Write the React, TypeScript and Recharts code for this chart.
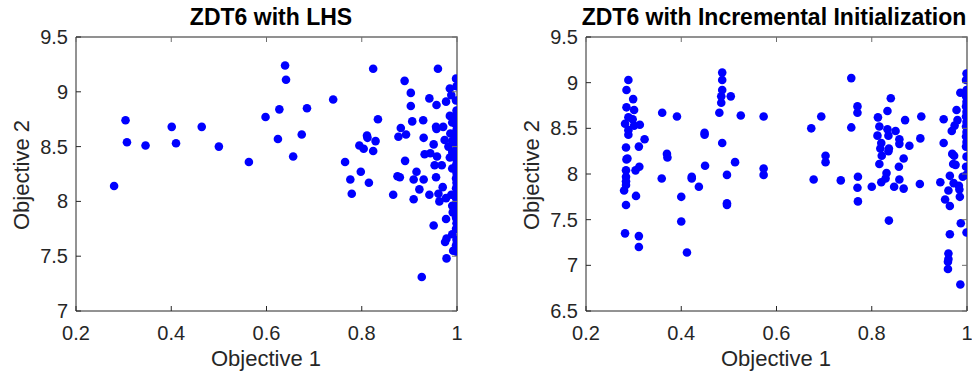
import React from 'react';
import * as R from 'recharts';
import { ScatterChart, Scatter, XAxis, YAxis } from 'recharts';

// ZDT6 with LHS
const lhsObj1 = [
  0.304, 0.307, 0.346, 0.28, 0.401, 0.41, 0.464, 0.5, 0.563, 0.598, 0.627, 0.624,
  0.639, 0.641, 0.685, 0.674, 0.656, 0.74, 0.824, 0.89, 0.96, 0.834, 0.903, 0.903,
  0.942, 0.957, 0.977, 0.988, 0.985, 0.811, 0.812, 0.829, 0.795, 0.804, 0.824, 0.765,
  0.776, 0.798, 0.815, 0.779, 0.882, 0.877, 0.893, 0.906, 0.929, 0.93, 0.956, 0.957,
  0.971, 0.974, 0.951, 0.932, 0.944, 0.958, 0.891, 0.953, 0.968, 0.875, 0.88, 0.915,
  0.909, 0.93, 0.956, 0.921, 0.866, 0.909, 0.942, 0.963, 0.961, 0.97, 0.977, 0.988,
  0.991, 0.977, 0.951, 0.975, 0.978, 0.992, 0.978, 0.926,
  0.998, 0.999, 0.998, 0.999, 0.998, 0.999, 0.998, 0.999, 0.998, 0.999, 0.998, 0.999,
  0.998, 0.999, 0.998, 0.999, 0.998, 0.999, 0.998, 0.999, 0.998, 0.999, 0.998, 0.999,
  0.998, 0.999, 0.998, 0.999, 0.998, 0.999,
  0.985, 0.99, 0.986, 0.99, 0.982, 0.99, 0.985, 0.99, 0.99, 0.99,
];
const lhsObj2 = [
  8.74, 8.54, 8.51, 8.14, 8.68, 8.53, 8.68, 8.5, 8.36, 8.77, 8.84, 8.57,
  9.24, 9.11, 8.85, 8.61, 8.41, 8.93, 9.21, 9.1, 9.21, 8.75, 8.99, 8.87,
  8.94, 8.88, 8.91, 8.97, 9.03, 8.6, 8.58, 8.55, 8.51, 8.48, 8.46, 8.36,
  8.2, 8.27, 8.17, 8.07, 8.67, 8.59, 8.61, 8.73, 8.74, 8.58, 8.68, 8.66,
  8.68, 8.56, 8.52, 8.43, 8.44, 8.41, 8.37, 8.33, 8.33, 8.23, 8.22, 8.27,
  8.2, 8.2, 8.22, 8.11, 8.06, 8.02, 8.06, 8.0, 8.07, 8.13, 8.03, 8.06,
  7.9, 7.84, 7.78, 7.63, 7.66, 7.55, 7.48, 7.31,
  9.12, 9.05, 8.92, 8.83, 8.79, 8.74, 8.7, 8.65, 8.61, 8.56, 8.51, 8.47,
  8.42, 8.38, 8.33, 8.26, 8.21, 8.17, 8.12, 8.07, 8.03, 7.98, 7.94, 7.89,
  7.85, 7.8, 7.75, 7.65, 7.6, 7.54,
  8.78, 8.72, 8.62, 8.55, 8.5, 8.45, 8.4, 8.3, 7.96, 7.7,
];

// ZDT6 with Incremental Initialization
const incObj1 = [
  0.289, 0.285, 0.299, 0.285, 0.301, 0.289, 0.298, 0.282, 0.301, 0.313, 0.289, 0.289,
  0.323, 0.284, 0.311, 0.285, 0.287, 0.284, 0.304, 0.312, 0.284, 0.284, 0.284, 0.28,
  0.305, 0.284, 0.282, 0.311, 0.311, 0.36, 0.391, 0.37, 0.371, 0.359, 0.422, 0.422,
  0.437, 0.4, 0.4, 0.412, 0.449, 0.449, 0.45, 0.486, 0.486, 0.486, 0.484, 0.484,
  0.504, 0.48, 0.525, 0.486, 0.513, 0.496, 0.496, 0.496, 0.573, 0.573, 0.573,
  0.757, 0.694, 0.673, 0.757, 0.77, 0.77, 0.703, 0.703, 0.678, 0.735, 0.771, 0.77,
  0.771, 0.8, 0.84, 0.833, 0.813, 0.816, 0.833, 0.85, 0.835, 0.812, 0.858, 0.82,
  0.858, 0.818, 0.836, 0.835, 0.821, 0.879, 0.867, 0.87, 0.904, 0.902, 0.816, 0.857,
  0.831, 0.829, 0.82, 0.858, 0.847, 0.867, 0.901, 0.836, 0.944, 0.951, 0.951, 0.961,
  0.954, 0.964, 0.964, 0.972, 0.986, 0.978, 0.98, 0.968, 0.974, 0.969, 0.973, 0.971,
  0.976, 0.991, 0.983, 0.984, 0.985, 0.987, 0.964, 0.961, 0.961, 0.96, 0.96, 0.986,
  0.999,
  0.999, 0.998, 0.999, 0.998, 0.999, 0.998, 0.999, 0.998, 0.999, 0.998, 0.999, 0.998,
  0.999, 0.998, 0.999, 0.998, 0.999,
];
const incObj2 = [
  9.03, 8.92, 8.82, 8.73, 8.7, 8.62, 8.6, 8.55, 8.53, 8.54, 8.48, 8.43,
  8.38, 8.29, 8.3, 8.16, 8.17, 8.04, 8.04, 8.08, 7.97, 7.92, 7.88, 7.82,
  7.76, 7.66, 7.35, 7.32, 7.2, 8.67, 8.63, 8.22, 8.18, 7.95, 7.97, 7.95,
  7.86, 7.75, 7.48, 7.14, 8.45, 8.43, 8.09, 9.11, 9.03, 8.92, 8.85, 8.78,
  8.85, 8.67, 8.64, 8.34, 8.13, 7.99, 7.68, 7.66, 8.63, 8.06, 7.99,
  9.05, 8.63, 8.5, 8.51, 8.74, 8.67, 8.2, 8.13, 7.94, 7.93, 7.97, 7.85,
  7.7, 7.86, 8.83, 8.69, 8.62, 8.52, 8.49, 8.47, 8.42, 8.42, 8.38, 8.34,
  8.33, 8.28, 8.28, 8.25, 8.2, 8.31, 8.17, 8.59, 8.63, 8.39, 8.11, 8.08,
  8.01, 7.95, 7.91, 7.94, 7.86, 7.84, 7.89, 7.49, 7.91, 8.6, 8.34, 7.82,
  7.72, 7.65, 7.98, 7.9, 8.89, 8.7, 8.59, 8.47, 8.53, 8.22, 8.2, 8.11,
  8.1, 7.97, 7.87, 7.83, 7.75, 7.46, 7.34, 7.13, 7.07, 7.04, 6.96, 6.79,
  7.36,
  9.1, 9.03, 8.92, 8.85, 8.79, 8.74, 8.68, 8.63, 8.57, 8.52, 8.46, 8.41,
  8.35, 8.3, 8.19, 8.08, 7.99,
];

const xTicks = [0.2, 0.4, 0.6, 0.8, 1];
const lhsYTicks = [7, 7.5, 8, 8.5, 9, 9.5];
const incYTicks = [6.5, 7, 7.5, 8, 8.5, 9, 9.5];

const FONT = '"Liberation Sans", Arial, Helvetica, sans-serif';
const AXIS = '#262626';
const BOX = '#6e6e6e';

const PANEL_W = 486;
const PANEL_H = 373;
const M_TOP = 37;
const M_BOTTOM = 32;
const X_AXIS_H = 30;
const Y_AXIS_W = 40;
const PLOT_H = PANEL_H - M_TOP - M_BOTTOM - X_AXIS_H;
const X_GAP = 10; // gap between x axis line and tick label anchor
const Y_GAP = 8;
const TICK = 5;

const zip = (xs: number[], ys: number[]) => xs.map((x, i) => ({ x, y: ys[i] }));

const Dot = (props: any) => <circle cx={props.cx} cy={props.cy} r={4.3} fill="#0000ff" />;

// x tick: label plus inward tick marks on the bottom and top edges
const XTick = ({ x, y, payload }: any) => {
  const base = y - X_GAP;
  const top = base - PLOT_H;
  return (
    <g>
      <line x1={x} x2={x} y1={base} y2={base - TICK} stroke={AXIS} />
      <line x1={x} x2={x} y1={top} y2={top + TICK} stroke={BOX} />
      <text x={x} y={y + 19} textAnchor="middle" fontSize={20} fill={AXIS} fontFamily={FONT}>
        {String(payload.value)}
      </text>
    </g>
  );
};

function makeYTick(plotW: number) {
  return ({ x, y, payload }: any) => {
    const base = x + Y_GAP;
    const right = base + plotW;
    return (
      <g>
        <line x1={base} x2={base + TICK} y1={y} y2={y} stroke={AXIS} />
        <line x1={right} x2={right - TICK} y1={y} y2={y} stroke={BOX} />
        <text x={x} y={y + 7} textAnchor="end" fontSize={20} fill={AXIS} fontFamily={FONT}>
          {String(payload.value)}
        </text>
      </g>
    );
  };
}

// top and right edges of the axes box, drawn inside the svg
const usePlot: any = (R as any).usePlotArea;
function BoxFrame() {
  const area = usePlot ? usePlot() : null;
  if (!area) return null;
  const { x, y, width, height } = area;
  return (
    <path
      d={`M${x},${y}H${x + width}V${y + height}`}
      fill="none"
      stroke={BOX}
      strokeWidth={1.5}
    />
  );
}

function Panel({ data, yTicks, left, marginLeft, marginRight }: any) {
  const yMin = yTicks[0];
  const yMax = yTicks[yTicks.length - 1];
  const plotW = PANEL_W - marginRight - marginLeft - Y_AXIS_W;
  return (
    <div style={{ position: 'absolute', left, top: 0, width: PANEL_W, height: PANEL_H }}>
      <ScatterChart
        width={PANEL_W}
        height={PANEL_H}
        margin={{ top: M_TOP, right: marginRight, bottom: M_BOTTOM, left: marginLeft }}
      >
        <XAxis
          type="number"
          dataKey="x"
          domain={[0.2, 1]}
          ticks={xTicks}
          interval={0}
          height={X_AXIS_H}
          tickSize={0}
          tickLine={false}
          tickMargin={X_GAP}
          tick={XTick}
          stroke={AXIS}
          allowDataOverflow
        />
        <YAxis
          type="number"
          dataKey="y"
          domain={[yMin, yMax]}
          ticks={yTicks}
          interval={0}
          width={Y_AXIS_W}
          tickSize={0}
          tickLine={false}
          tickMargin={Y_GAP}
          tick={makeYTick(plotW)}
          stroke={AXIS}
          allowDataOverflow
        />
        <BoxFrame />
        <Scatter data={data} shape={Dot} isAnimationActive={false} />
      </ScatterChart>
      {!usePlot && (
        <div
          style={{
            position: 'absolute',
            left: marginLeft + Y_AXIS_W,
            top: M_TOP - 1,
            width: plotW + 1,
            height: PLOT_H + 1,
            boxSizing: 'border-box',
            borderTop: `2px solid ${BOX}`,
            borderRight: `2px solid ${BOX}`,
            pointerEvents: 'none',
          }}
        />
      )}
    </div>
  );
}

const textBase: React.CSSProperties = {
  position: 'absolute',
  fontFamily: FONT,
  color: AXIS,
  lineHeight: '22px',
  whiteSpace: 'nowrap',
};

export default function App() {
  return (
    <div
      style={{
        position: 'absolute',
        left: 0,
        top: 0,
        width: 972,
        height: 373,
        background: '#fff',
        overflow: 'hidden',
      }}
    >
      <Panel
        data={zip(lhsObj1, lhsObj2)}
        yTicks={lhsYTicks}
        left={0}
        marginLeft={36}
        marginRight={29}
      />
      <Panel
        data={zip(incObj1, incObj2)}
        yTicks={incYTicks}
        left={486}
        marginLeft={60}
        marginRight={5}
      />
      <div style={{ ...textBase, left: 271, top: 6, transform: 'translateX(-50%)', fontSize: 23, fontWeight: 'bold', color: '#000' }}>
        ZDT6 with LHS
      </div>
      <div style={{ ...textBase, left: 774, top: 6, transform: 'translateX(-50%)', fontSize: 23, fontWeight: 'bold', color: '#000' }}>
        ZDT6 with Incremental Initialization
      </div>
      <div style={{ ...textBase, left: 266, top: 348, transform: 'translateX(-50%)', fontSize: 22 }}>
        Objective 1
      </div>
      <div style={{ ...textBase, left: 776, top: 348, transform: 'translateX(-50%)', fontSize: 22 }}>
        Objective 1
      </div>
      <div style={{ ...textBase, left: 22, top: 175, transform: 'translate(-50%, -50%) rotate(-90deg)', fontSize: 22 }}>
        Objective 2
      </div>
      <div style={{ ...textBase, left: 532, top: 175, transform: 'translate(-50%, -50%) rotate(-90deg)', fontSize: 22 }}>
        Objective 2
      </div>
    </div>
  );
}
